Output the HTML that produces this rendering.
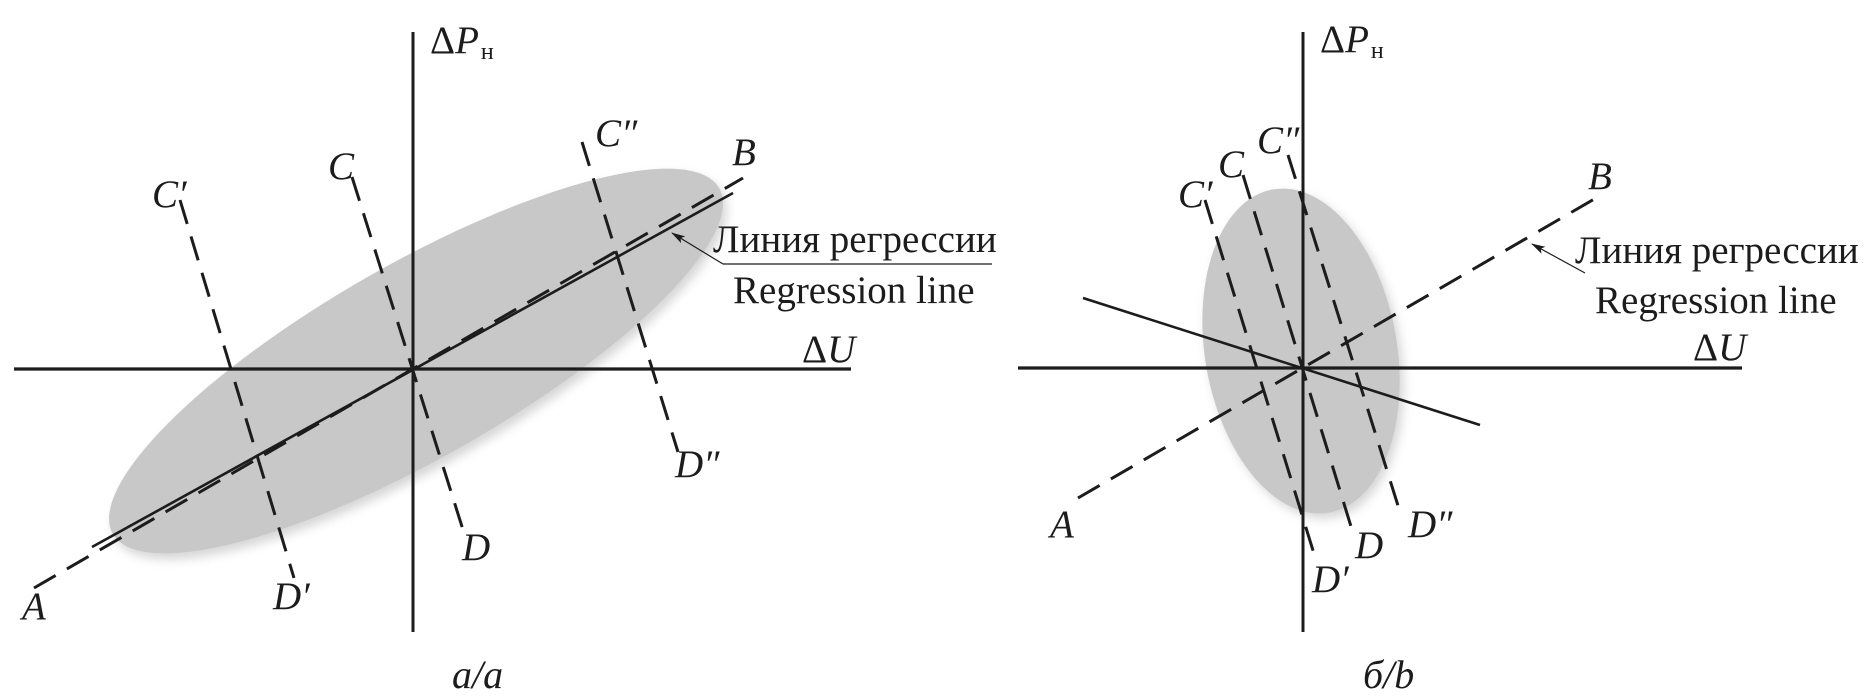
<!DOCTYPE html>
<html>
<head>
<meta charset="utf-8">
<style>
html,body{margin:0;padding:0;background:#fff;}
svg{display:block;}
text{font-family:"Liberation Serif","DejaVu Serif",serif;fill:#1c1c1c;}
</style>
</head>
<body>
<svg width="1866" height="697" viewBox="0 0 1866 697" xmlns="http://www.w3.org/2000/svg">
<defs>
<filter id="sh" x="-30%" y="-30%" width="160%" height="160%"><feGaussianBlur stdDeviation="5"/></filter>
<marker id="arr" markerWidth="14" markerHeight="10" refX="13" refY="5" orient="auto" markerUnits="userSpaceOnUse">
<path d="M0,1 L14,5 L0,9 L3,5 Z" fill="#1c1c1c"/>
</marker>
</defs>
<rect width="1866" height="697" fill="#fff"/>

<!-- ===== Panel a ===== -->
<ellipse cx="420" cy="367" rx="349" ry="97" fill="#d6d6d6" filter="url(#sh)" transform="rotate(-29.7 420 367)"/>
<ellipse cx="416" cy="361" rx="349" ry="97" fill="#c8c8c8" transform="rotate(-29.7 416 361)"/>

<g stroke="#1c1c1c" fill="none">
<line x1="413" y1="32" x2="413" y2="632" stroke-width="3"/>
<line x1="14" y1="369" x2="851" y2="369" stroke-width="3.2"/>
<line x1="92" y1="547" x2="733" y2="193" stroke-width="2.6"/>
<line x1="34" y1="588" x2="743" y2="178" stroke-width="3" stroke-dasharray="25 13"/>
<line x1="180" y1="200" x2="294" y2="578" stroke-width="3" stroke-dasharray="25 13"/>
<line x1="352" y1="177" x2="464" y2="533" stroke-width="3" stroke-dasharray="25 13"/>
<line x1="582" y1="142" x2="678" y2="452" stroke-width="3" stroke-dasharray="25 13"/>
<line x1="992" y1="264" x2="723" y2="264" stroke-width="1.2"/>
<line x1="723" y1="264" x2="672" y2="233" stroke-width="1.2" marker-end="url(#arr)"/>
</g>

<text x="430" y="53" font-size="39">Δ<tspan font-style="italic">P</tspan><tspan font-size="24" dx="2" dy="6">н</tspan></text>
<text x="802" y="362" font-size="39">Δ<tspan font-style="italic">U</tspan></text>
<g font-size="39" font-style="italic">
<text x="152" y="207">C′</text>
<text x="328" y="179">C</text>
<text x="595" y="146">C″</text>
<text x="732" y="165">B</text>
<text x="22" y="619">A</text>
<text x="273" y="609">D′</text>
<text x="462" y="560">D</text>
<text x="675" y="477">D″</text>
</g>
<text x="713" y="252" font-size="39">Линия регрессии</text>
<text x="733" y="303" font-size="39">Regression line</text>
<text x="452" y="688" font-size="40" font-style="italic">a/a</text>

<!-- ===== Panel b ===== -->
<ellipse cx="1305" cy="356" rx="96" ry="164" fill="#d6d6d6" filter="url(#sh)" transform="rotate(-9.8 1305 356)"/>
<ellipse cx="1301" cy="351" rx="96" ry="164" fill="#c8c8c8" transform="rotate(-9.8 1301 351)"/>

<g stroke="#1c1c1c" fill="none">
<line x1="1303" y1="32" x2="1303" y2="632" stroke-width="3"/>
<line x1="1018" y1="368" x2="1742" y2="368" stroke-width="3.2"/>
<line x1="1083" y1="298" x2="1480" y2="425" stroke-width="2.6"/>
<line x1="1078" y1="498" x2="1603" y2="194" stroke-width="3" stroke-dasharray="25 13"/>
<line x1="1205" y1="200" x2="1315" y2="557" stroke-width="3" stroke-dasharray="25 13"/>
<line x1="1243" y1="175" x2="1353" y2="533" stroke-width="3" stroke-dasharray="25 13"/>
<line x1="1288" y1="155" x2="1400" y2="512" stroke-width="3" stroke-dasharray="25 13"/>
<line x1="1585" y1="273" x2="1532" y2="244" stroke-width="1.2" marker-end="url(#arr)"/>
</g>

<text x="1320" y="52" font-size="39">Δ<tspan font-style="italic">P</tspan><tspan font-size="24" dx="2" dy="6">н</tspan></text>
<text x="1693" y="360" font-size="39">Δ<tspan font-style="italic">U</tspan></text>
<g font-size="39" font-style="italic">
<text x="1178" y="207">C′</text>
<text x="1218" y="177">C</text>
<text x="1257" y="153">C″</text>
<text x="1588" y="189">B</text>
<text x="1050" y="537">A</text>
<text x="1312" y="592">D′</text>
<text x="1355" y="558">D</text>
<text x="1408" y="537">D″</text>
</g>
<text x="1575" y="263" font-size="39">Линия регрессии</text>
<text x="1595" y="313" font-size="39">Regression line</text>
<text x="1363" y="688" font-size="40" font-style="italic">б/b</text>
</svg>
</body>
</html>
